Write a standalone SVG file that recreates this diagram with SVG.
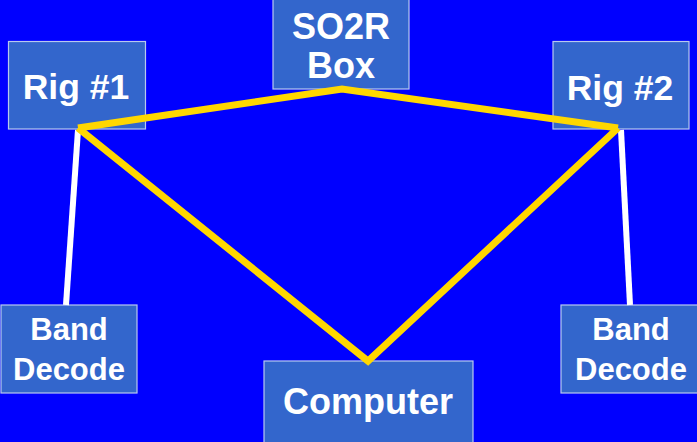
<svg xmlns="http://www.w3.org/2000/svg" width="697" height="442" viewBox="0 0 697 442">
<style>
.box{fill:#3366CC;stroke:#B8C8EE;stroke-width:1.2}
.t{font-family:"Liberation Sans",Arial,sans-serif;font-weight:bold;fill:#FFFFFF;text-anchor:middle}
.y{stroke:#FFD700;stroke-width:7;fill:none;stroke-linejoin:miter}
.w{stroke:#FFFFFF;stroke-width:6;fill:none}
</style>
<rect width="697" height="442" fill="#0000FF"/>
<g id="rig1"><rect class="box" x="8.5" y="41.5" width="137" height="87.5"/><text class="t" x="76" y="98.5" font-size="35.5">Rig #1</text></g>
<g id="so2r"><rect class="box" x="273" y="-1" width="136" height="90"/><text class="t" x="341" y="38.5" font-size="36">SO2R</text><text class="t" x="341" y="77.5" font-size="36">Box</text></g>
<g id="rig2"><rect class="box" x="553" y="41.5" width="136" height="87.5"/><text class="t" x="620" y="99.5" font-size="35.5">Rig #2</text></g>
<g id="bd1"><rect class="box" x="1" y="305" width="136" height="88"/><text class="t" x="69" y="340" font-size="31">Band</text><text class="t" x="69" y="379.5" font-size="31">Decode</text></g>
<g id="computer"><rect class="box" x="264" y="361" width="209" height="85"/><text class="t" x="368" y="413.5" font-size="36">Computer</text></g>
<g id="bd2"><rect class="box" x="561" y="305" width="140" height="88"/><text class="t" x="631" y="340" font-size="31">Band</text><text class="t" x="631" y="379.5" font-size="31">Decode</text></g>
<g id="connectors">
<line class="w" x1="78" y1="130" x2="66" y2="305"/>
<line class="w" x1="621" y1="130" x2="630" y2="305"/>
<polyline class="y" points="78,128 342,89 618,128"/>
<polyline class="y" points="78,128 368,361 618,128"/>
</g>
</svg>
